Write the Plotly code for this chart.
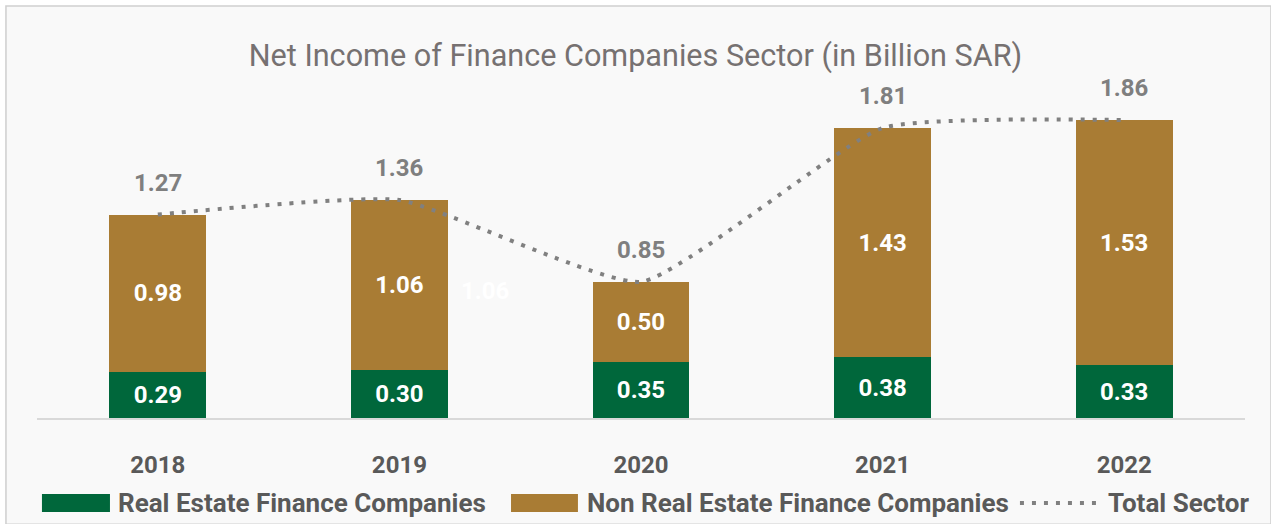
import plotly.graph_objects as go

years = ["2018", "2019", "2020", "2021", "2022"]
real_estate = [0.29, 0.30, 0.35, 0.38, 0.33]
non_real_estate = [0.98, 1.06, 0.50, 1.43, 1.53]
total_sector = [1.27, 1.36, 0.85, 1.81, 1.86]
series_names = ["Real Estate Finance Companies", "Non Real Estate Finance Companies", "Total Sector"]

GREEN = "#00673B"
GOLD = "#A97C34"
GRAY_LINE = "#808080"
TXT = "#595959"
FONT = "Roboto"
LBL = 24

fig = go.Figure()
fig.add_trace(go.Bar(
    x=years, y=real_estate, name=series_names[0],
    marker=dict(color=GREEN, line=dict(width=0)),
    text=[f"{v:.2f}" for v in real_estate], textposition="inside",
    insidetextanchor="middle", textangle=0,
    textfont=dict(color="white", size=LBL, family=FONT, weight="bold"),
))
fig.add_trace(go.Bar(
    x=years, y=non_real_estate, name=series_names[1],
    marker=dict(color=GOLD, line=dict(width=0)),
    text=[f"{v:.2f}" for v in non_real_estate], textposition="inside",
    insidetextanchor="middle", textangle=0,
    textfont=dict(color="white", size=LBL, family=FONT, weight="bold"),
))
fig.add_trace(go.Scatter(
    x=years, y=total_sector, name=series_names[2], mode="lines",
    line=dict(color=GRAY_LINE, width=4, dash="4px,8px", shape="spline", smoothing=0.45),
))

# total labels (category index used as the annotation x on the category axis)
for i, t in enumerate(total_sector):
    fig.add_annotation(x=i, y=t, text=f"{t:.2f}", showarrow=False, yshift=32,
                       font=dict(color="#7F7F7F", size=LBL, family=FONT, weight="bold"))

# stray faint data label seen beside the 2019 bar
fig.add_annotation(x=1, y=real_estate[1] + non_real_estate[1] / 2, text=f"{non_real_estate[1]:.2f}",
                   showarrow=False, xshift=86, yshift=-6,
                   font=dict(color="#FFFFFF", size=LBL, family=FONT, weight="bold"))

# background panel with border
fig.add_shape(type="rect", xref="paper", yref="paper",
              x0=-0.0257, x1=1.0215, y0=-0.305, y1=1.184,
              line=dict(color="#CFCFCF", width=1.5), fillcolor="#F9F9F9", layer="below")

# custom legend (paper coordinates)
leg_y0, leg_y1, leg_yc = -0.2184, -0.2701, -0.2443
fig.add_shape(type="rect", xref="paper", yref="paper", x0=0.0041, x1=0.0604,
              y0=leg_y1, y1=leg_y0, line=dict(width=0), fillcolor=GREEN)
fig.add_shape(type="rect", xref="paper", yref="paper", x0=0.3924, x1=0.4478,
              y0=leg_y1, y1=leg_y0, line=dict(width=0), fillcolor=GOLD)
fig.add_shape(type="line", xref="paper", yref="paper", x0=0.8137, x1=0.8790,
              y0=leg_yc, y1=leg_yc, line=dict(color=GRAY_LINE, width=4, dash="4px,8px"))
for xp, name in zip([0.0654, 0.4536, 0.8849], series_names):
    fig.add_annotation(xref="paper", yref="paper", x=xp, y=leg_yc, text=name,
                       showarrow=False, xanchor="left", yanchor="middle",
                       font=dict(color=TXT, size=26, family=FONT, weight="bold"))

fig.update_layout(
    width=1271, height=524,
    paper_bgcolor="#FFFFFF", plot_bgcolor="rgba(0,0,0,0)",
    barmode="stack", bargap=0.6,
    margin=dict(l=37, r=26, t=70, b=106),
    title=dict(text="Net Income of Finance Companies Sector (in Billion SAR)",
               x=0.5, xanchor="center", y=0.895, yanchor="middle",
               font=dict(color="#767171", size=30.6, family=FONT)),
    xaxis=dict(type="category", categoryorder="array", categoryarray=years,
               range=[-0.5, len(years) - 0.5], autorange=False,
               showline=True, linecolor="#D9D9D9", linewidth=2, showgrid=False,
               ticks="", tickfont=dict(color=TXT, size=24, family=FONT, weight="bold"),
               ticklabelstandoff=24),
    yaxis=dict(visible=False, range=[0, 2.172], showgrid=False, zeroline=False),
    showlegend=False,
)

fig.write_html("out.html", config={"displayModeBar": False},
               post_script="document.body.style.margin='0';")
